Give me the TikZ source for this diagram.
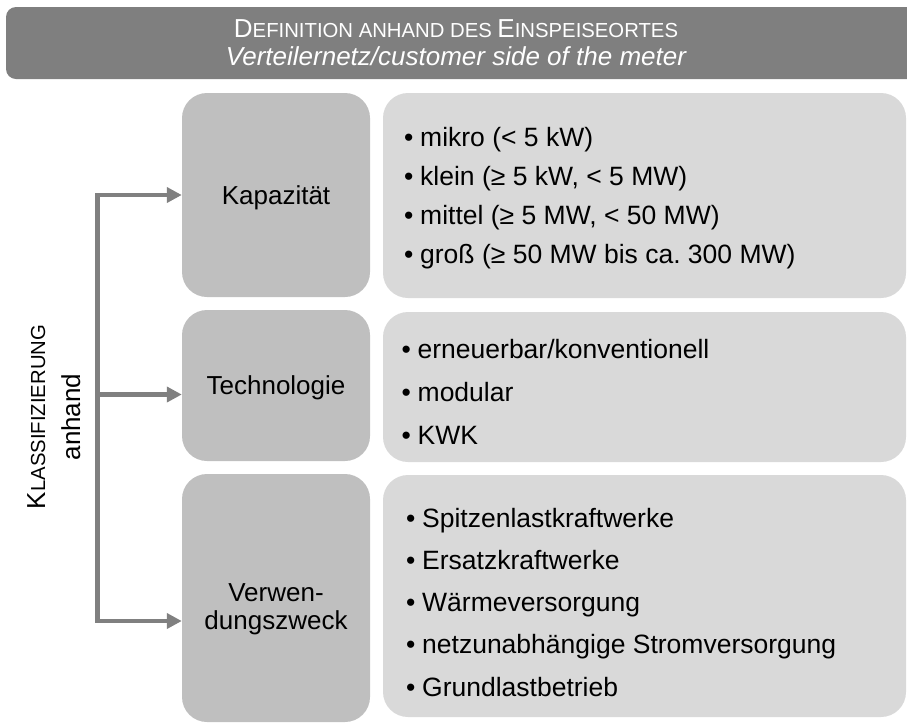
\documentclass[tikz,border=0pt]{standalone}
\usepackage{fontspec}
\setmainfont{Liberation Sans}
\usetikzlibrary{arrows.meta}
\definecolor{hdrgray}{HTML}{7F7F7F}
\definecolor{catgray}{HTML}{BFBFBF}
\definecolor{listgray}{HTML}{D9D9D9}
\definecolor{conngray}{HTML}{808080}
\newcommand\fsc[2]{#1{\fontsize{20.3}{20.3}\selectfont #2}}
\newcommand\bul{\makebox[16pt][l]{•}}
\tikzset{
  bigfont/.style={font=\fontsize{26}{28}\selectfont},
  listfont/.style={font=\fontsize{26.5}{28}\selectfont},
  hdrbox/.style={fill=hdrgray, rounded corners=10pt, minimum width=924pt, minimum height=72pt, inner sep=0pt},
  catbox/.style={fill=catgray, rounded corners=25pt, minimum width=188pt, inner sep=0pt},
  listbox/.style={fill=listgray, rounded corners=25pt, minimum width=523pt, inner sep=0pt},
  cattext/.style={bigfont, align=center, inner sep=0pt},
  item/.style={listfont, anchor=base west, inner sep=0pt},
  hdrtext/.style={bigfont, text=white, anchor=base, inner sep=0pt},
  connector/.style={draw=conngray, line width=4.5pt, line join=miter},
  tip/.style={-{Triangle[length=15pt,width=15pt]}}
}
\begin{document}
\begin{tikzpicture}[x=1pt,y=-1pt]
\useasboundingbox (0,0) rectangle (907,724);
\clip (0,0) rectangle (907,724);

% header
\node[hdrbox] (hdr) at (468,43) {};
\node[hdrtext] (hdr1) at (456,37) {\fsc{D}{EFINITION ANHAND DES }\fsc{E}{INSPEISEORTES}};
\node[hdrtext] (hdr2) at (456,65) {\itshape Verteilernetz/customer side of the meter};

% category boxes
\node[catbox, minimum height=204pt] (kap) at (276,195) {};
\node[catbox, minimum height=151pt] (tech) at (276,385.5) {};
\node[catbox, minimum height=248pt] (use) at (276,598) {};

\node[cattext, anchor=base] (kapt) at (276,204) {Kapazität};
\node[cattext, anchor=base] (techt) at (276,394) {Technologie};
\node[cattext] (uset) at (276,609) {Verwen-\\dungszweck};

% list boxes
\node[listbox, minimum height=205pt] (kapl) at (644.5,195.5) {};
\node[listbox, minimum height=150pt] (techl) at (644.5,387) {};
\node[listbox, minimum height=242pt] (usel) at (644.5,596) {};

% list items
\node[item] (k1) at (404,146) {\bul mikro (< 5 kW)};
\node[item] (k2) at (404,185) {\bul klein (≥ 5 kW, < 5 MW)};
\node[item] (k3) at (404,224) {\bul mittel (≥ 5 MW, < 50 MW)};
\node[item] (k4) at (404,263) {\bul groß (≥ 50 MW bis ca.\ 300 MW)};

\node[item] (t1) at (401.5,358) {\bul erneuerbar/konventionell};
\node[item] (t2) at (401.5,401) {\bul modular};
\node[item] (t3) at (401.5,444) {\bul KWK};

\node[item] (v1) at (406,527) {\bul Spitzenlastkraftwerke};
\node[item] (v2) at (406,569.25) {\bul Ersatzkraftwerke};
\node[item] (v3) at (406,611.5) {\bul Wärmeversorgung};
\node[item] (v4) at (406,653.75) {\bul netzunabhängige Stromversorgung};
\node[item] (v5) at (406,696) {\bul Grundlastbetrieb};

% left label
\node[bigfont, rotate=90, anchor=base, inner sep=0pt] (klass) at (45,417) {\fsc{K}{LASSIFIZIERUNG}};
\node[bigfont, rotate=90, anchor=base, inner sep=0pt] (anh) at (80,417) {anhand};

% connectors
\coordinate (c1) at (97.5,195);
\coordinate (c2) at (97.5,394.5);
\coordinate (c3) at (97.5,621);
\draw[connector, {Triangle[length=15pt,width=15pt]}-{Triangle[length=15pt,width=15pt]}] (kap.west) -- (c1) -- (c3) -- (c3 -| use.west);
\draw[connector, tip] (c2) -- (c2 -| tech.west);
\end{tikzpicture}
\end{document}
